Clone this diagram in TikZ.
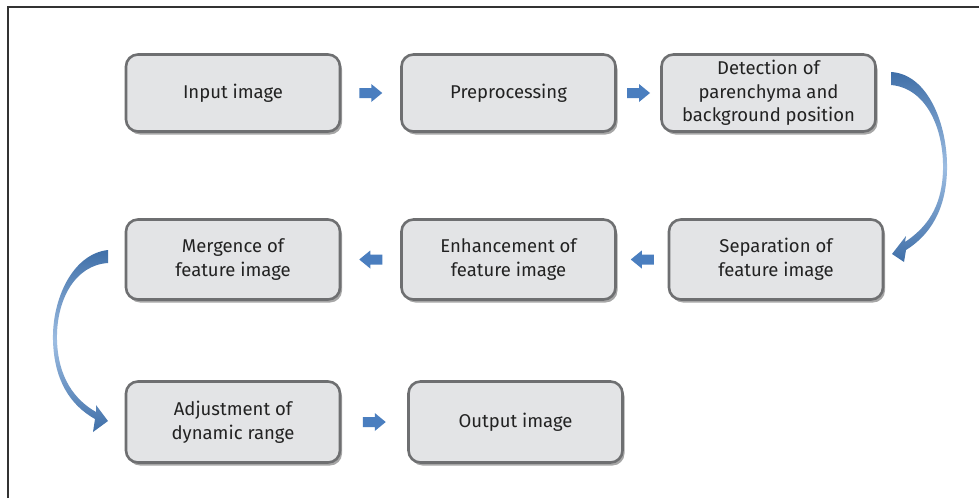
\documentclass[tikz,border=0pt]{standalone}
\usepackage{fontspec}
\setmainfont{Fira Sans}
\usetikzlibrary{shadows,calc}
\definecolor{boxfill}{HTML}{E3E4E6}
\definecolor{boxline}{HTML}{6E6F71}
\definecolor{ablue}{HTML}{4A7EBF}
\definecolor{adark}{HTML}{3F6FA8}
\definecolor{alight}{HTML}{9DBDE2}
\definecolor{txt}{HTML}{222222}
\begin{document}
\begin{tikzpicture}[x=1pt,y=-1pt,
  stepbox/.style={draw=boxline, line width=2.6pt, fill=boxfill, rounded corners=12pt,
    minimum width=214pt, minimum height=77pt, inner sep=0pt, align=center,
    text=txt, font=\fontsize{18.5pt}{23.5pt}\selectfont,
    drop shadow={shadow xshift=2pt, shadow yshift=-3pt, opacity=0.35, fill=black}},
  rarrow/.pic={\fill[ablue] (-11.5,-5) -- (0.5,-5) -- (0.5,-9) -- (11.5,0) -- (0.5,9) -- (0.5,5) -- (-11.5,5) -- cycle;},
  larrow/.pic={\fill[ablue] (11.5,-5) -- (-0.5,-5) -- (-0.5,-9) -- (-11.5,0) -- (-0.5,9) -- (-0.5,5) -- (11.5,5) -- cycle;}
]
\useasboundingbox (0,0) rectangle (979,498);
\fill[white] (0,0) rectangle (979,498);
\draw[line width=1.6pt, black!80] (8,498) -- (8,7) -- (979,7);

\node[stepbox] (in)  at (233,93)    {Input image};
\node[stepbox] (pre) at (508.5,93)  {Preprocessing};
\node[stepbox] (det) at (768.5,93)  {Detection of\\parenchyma and\\background position};
\node[stepbox, minimum height=80pt] (mer) at (233,259.5)   {Mergence of\\feature image};
\node[stepbox, minimum height=80pt] (enh) at (508.5,259.5) {Enhancement of\\feature image};
\node[stepbox, minimum height=80pt] (sep) at (776,259.5)   {Separation of\\feature image};
\node[stepbox, minimum height=81pt] (adj) at (233,422)     {Adjustment of\\dynamic range};
\node[stepbox, minimum height=81pt] (out) at (515.5,422)   {Output image};

\pic at ($(in.east)!0.5!(pre.west)$) {rarrow};
\pic at ($(pre.east)!0.5!(det.west)$) {rarrow};
\pic at ($(mer.east)!0.5!(enh.west)$) {larrow};
\pic at ($(enh.east)!0.5!(sep.west)$) {larrow};
\pic at ($(adj.east)!0.5!(out.west)$) {rarrow};

% curved arrow: detection -> separation
\shade[top color=adark, bottom color=adark, middle color=alight]
  (891,72) .. controls (928,74) and (948,125) .. (947,170)
  .. controls (946,210) and (930,235) .. (906,250)
  -- (904,262) -- (892,254) -- (906,236) -- (905,242)
  .. controls (926,228) and (942,208) .. (943,170)
  .. controls (944,128) and (926,88) .. (891,85) -- cycle;

% curved arrow: mergence -> adjustment
\shade[top color=adark, bottom color=adark, middle color=alight]
  (108,250) .. controls (72,254) and (52,300) .. (53,340)
  .. controls (54,380) and (70,405) .. (95,419)
  -- (93,432) -- (108,421) -- (96,405) -- (96,412)
  .. controls (75,400) and (58,378) .. (57,340)
  .. controls (56,300) and (75,265) .. (108,263) -- cycle;
\end{tikzpicture}
\end{document}
